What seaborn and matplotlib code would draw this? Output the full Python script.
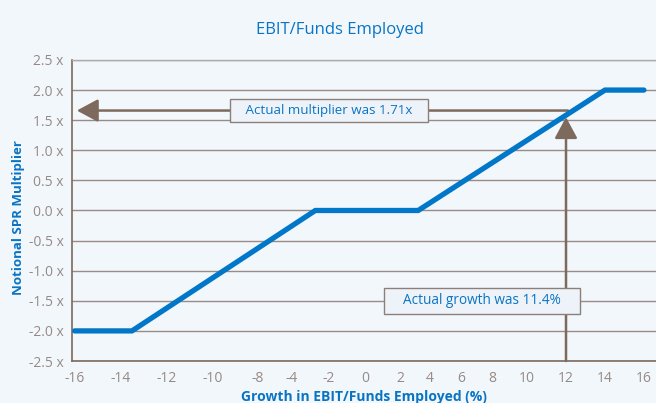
import matplotlib
matplotlib.use("Agg")
import matplotlib.pyplot as plt
import seaborn as sns
import pandas as pd
import numpy as np

# data
growth = [-16, -13.5, -2.7, 3.2, 14, 16]
multiplier = [-2.0, -2.0, 0.0, 0.0, 2.0, 2.0]

x_ticks = [-16, -14, -12, -10, -8, -4, -2, 0, 2, 4, 6, 8, 10, 12, 14, 16]
y_ticks = [-2.5, -2.0, -1.5, -1.0, -0.5, 0.0, 0.5, 1.0, 1.5, 2.0, 2.5]

actual_growth = 12.0
actual_multiplier = 1.66
multiplier_note = "Actual multiplier was 1.71x"
growth_note = "Actual growth was 11.4%"

# the source chart spaces its x ticks unevenly; rebuild that spacing
tick_spacing = [0, 46, 92, 138, 183, 217, 254, 291, 326, 356, 387, 418, 453, 492, 531, 570]
scale_vals = [-20] + x_ticks + [20]
scale_pos = [-92] + tick_spacing + [648]

bg = "#f2f7fc"
blue = "#0a74c4"
brown = "#7d6a5c"
grey_text = "#968a85"

sns.set_theme(style="white")
plt.rcParams['font.family'] = ['Open Sans', 'DejaVu Sans']

df = pd.DataFrame({"growth": growth, "multiplier": multiplier})

fig = plt.figure(figsize=(6.56, 4.03), dpi=100, facecolor=bg)
ax = fig.add_axes([0.1098, 0.1042, 0.8902, 0.747])
ax.set_facecolor(bg)

sns.lineplot(data=df, x="growth", y="multiplier", ax=ax, color="#0077c8",
             linewidth=3.8, solid_capstyle="round", solid_joinstyle="miter", zorder=3)

ax.set_xscale("function", functions=(lambda v: np.interp(v, scale_vals, scale_pos),
                                     lambda p: np.interp(p, scale_pos, scale_vals)))
ax.set_xlim(-16.11, 16.62)
ax.set_ylim(-2.5, 2.5)
ax.set_xticks(x_ticks)
ax.set_xticklabels([str(v) for v in x_ticks])
ax.minorticks_off()
ax.set_yticks(y_ticks)
ax.set_yticklabels([f"{v:.1f} x" for v in y_ticks])
ax.tick_params(axis="both", length=0, labelsize=10, labelcolor=grey_text)
ax.tick_params(axis="y", pad=6)
ax.tick_params(axis="x", pad=7)

ax.grid(axis="y", color="#9a8b84", linewidth=1.0)
ax.grid(axis="x", visible=False)
ax.spines["right"].set_visible(False)
ax.spines["top"].set_color("#b3aaa8")
ax.spines["top"].set_linewidth(1.0)
for side in ["left", "bottom"]:
    ax.spines[side].set_color(brown)
    ax.spines[side].set_linewidth(1.2)

ax.set_xlabel("Growth in EBIT/Funds Employed (%)", color=blue, fontsize=10,
              fontweight="bold", labelpad=3)
ax.set_ylabel("Notional SPR Multiplier", color=blue, fontsize=9.5,
              fontweight="bold")
ax.yaxis.set_label_coords(-0.080, 0.478)

fig.text(0.518, 0.925, "EBIT/Funds Employed", color=blue, fontsize=12,
         ha="center", va="center")

arrow = dict(arrowstyle="-|>,head_length=1.3,head_width=0.7", color=brown,
             linewidth=1.8, mutation_scale=10, shrinkA=0, shrinkB=0)
ax.annotate("", xy=(-15.9, actual_multiplier), xytext=(actual_growth + 0.1, actual_multiplier),
            arrowprops=arrow, zorder=2)
ax.annotate("", xy=(actual_growth, 1.55), xytext=(actual_growth, -2.5),
            arrowprops=arrow, zorder=2)

box = dict(boxstyle="square,pad=0.4", fc="#eef3fa", ec="#8c7e78", lw=1.0)
ax.text(-1.95, actual_multiplier, "   " + multiplier_note + "   ", color=blue, fontsize=9.6,
        ha="center", va="center", bbox=box, zorder=5)
ax.text(7.35, -1.5, "    " + growth_note + "    ", color=blue, fontsize=9.8,
        ha="center", va="center", bbox=box, zorder=5)

fig.savefig("out.png", dpi=100, facecolor=bg)
